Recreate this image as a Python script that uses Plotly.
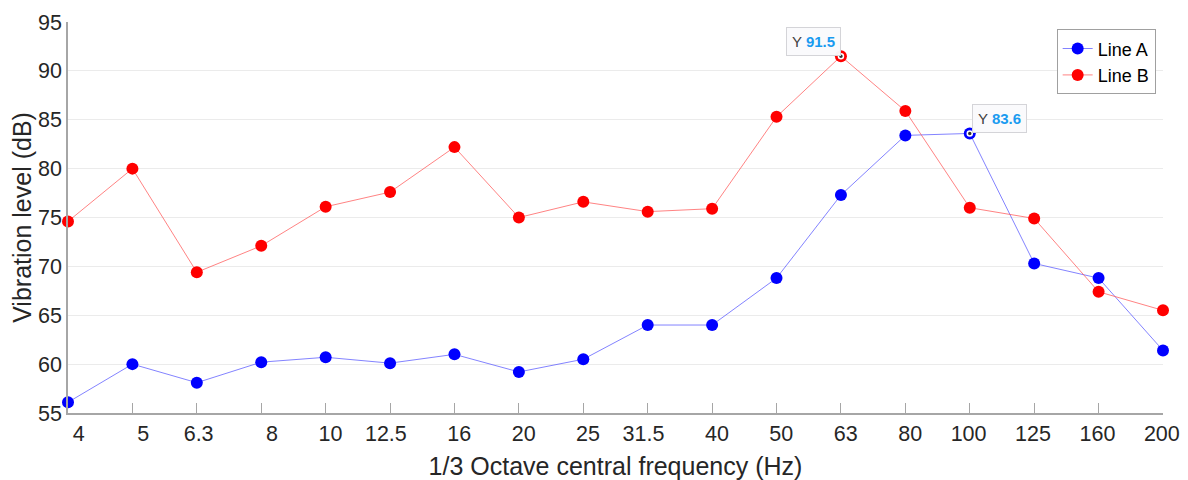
import plotly.graph_objects as go

categories = ["4", "5", "6.3", "8", "10", "12.5", "16", "20", "25", "31.5",
              "40", "50", "63", "80", "100", "125", "160", "200"]
line_a = [56.1, 60.0, 58.1, 60.2, 60.7, 60.1, 61.0, 59.2, 60.5, 64.0,
          64.0, 68.8, 77.3, 83.4, 83.6, 70.3, 68.8, 61.4]
line_b = [74.6, 80.0, 69.4, 72.1, 76.1, 77.6, 82.2, 75.0, 76.6, 75.6,
          75.9, 85.3, 91.5, 85.9, 76.0, 74.9, 67.4, 65.5]
y_ticks = [55, 60, 65, 70, 75, 80, 85, 90, 95]

tip_a = 14  # index of datatip on Line A
tip_b = 12  # index of datatip on Line B

FONT = "Liberation Sans, Arial, sans-serif"
TXT = "#262626"

fig = go.Figure()
fig.add_trace(go.Scatter(
    x=categories, y=line_a, name="Line A", mode="lines+markers",
    line=dict(color="rgba(90,90,255,0.75)", width=1),
    marker=dict(color="#0000ff", size=12, line=dict(width=0)),
    cliponaxis=False,
))
fig.add_trace(go.Scatter(
    x=categories, y=line_b, name="Line B", mode="lines+markers",
    line=dict(color="rgba(255,90,90,0.75)", width=1),
    marker=dict(color="#ff0000", size=12, line=dict(width=0)),
    cliponaxis=False,
))
fig.add_trace(go.Scatter(
    x=[categories[tip_a], categories[tip_b]], y=[line_a[tip_a], line_b[tip_b]],
    mode="markers", showlegend=False, hoverinfo="skip",
    marker=dict(color="#333333", size=5, line=dict(color="white", width=1.5)),
    cliponaxis=False,
))

def tip(idx, y, anchor, xs):
    return dict(
        x=idx, y=y, xref="x", yref="y", showarrow=False,
        text="Y <b><span style='color:#1a9bf0'>%.1f</span></b>" % y,
        font=dict(family=FONT, size=15, color="#404040"),
        xanchor=anchor, yanchor="bottom", xshift=xs, yshift=0,
        bgcolor="rgba(250,250,252,0.97)", bordercolor="#d4d4d8",
        borderwidth=1, borderpad=5,
    )

fig.update_layout(
    width=1180, height=472,
    margin=dict(l=60, r=25, t=14, b=67),
    paper_bgcolor="white", plot_bgcolor="white",
    font=dict(family=FONT, color=TXT),
    showlegend=True,
    legend=dict(
        x=0.9933, y=0.9813, xanchor="right", yanchor="top",
        bgcolor="white", bordercolor="#a0a0a0", borderwidth=1,
        font=dict(family=FONT, size=18, color="#000000"),
        tracegroupgap=0, itemwidth=30,
    ),
    annotations=[
        tip(tip_b, line_b[tip_b], "right", 0),
        tip(tip_a, line_a[tip_a], "left", 2),
    ],
    hovermode=False,
)
fig.update_xaxes(
    type="category", range=[0, 17],
    showline=True, linecolor="#a6a6a6", linewidth=1.5,
    ticks="inside", ticklen=10, tickcolor="#a6a6a6", tickwidth=1,
    showgrid=False, zeroline=False,
    tickfont=dict(family=FONT, size=21.5, color=TXT),
    ticklabelposition="outside left", ticklabelshift=18,
    title=dict(text="1/3 Octave central frequency (Hz)",
               font=dict(family=FONT, size=25, color=TXT), standoff=13),
    automargin=False,
)
fig.update_yaxes(
    range=[55, 95], tickvals=y_ticks,
    showline=True, linecolor="#a6a6a6", linewidth=1.5,
    showgrid=True, gridcolor="#ebebeb", gridwidth=1,
    ticks="", zeroline=False,
    tickfont=dict(family=FONT, size=21.5, color=TXT),
    title=dict(text="Vibration level (dB)",
               font=dict(family=FONT, size=25, color=TXT), standoff=2),
    automargin=False,
)

fig.write_html("out.html")
